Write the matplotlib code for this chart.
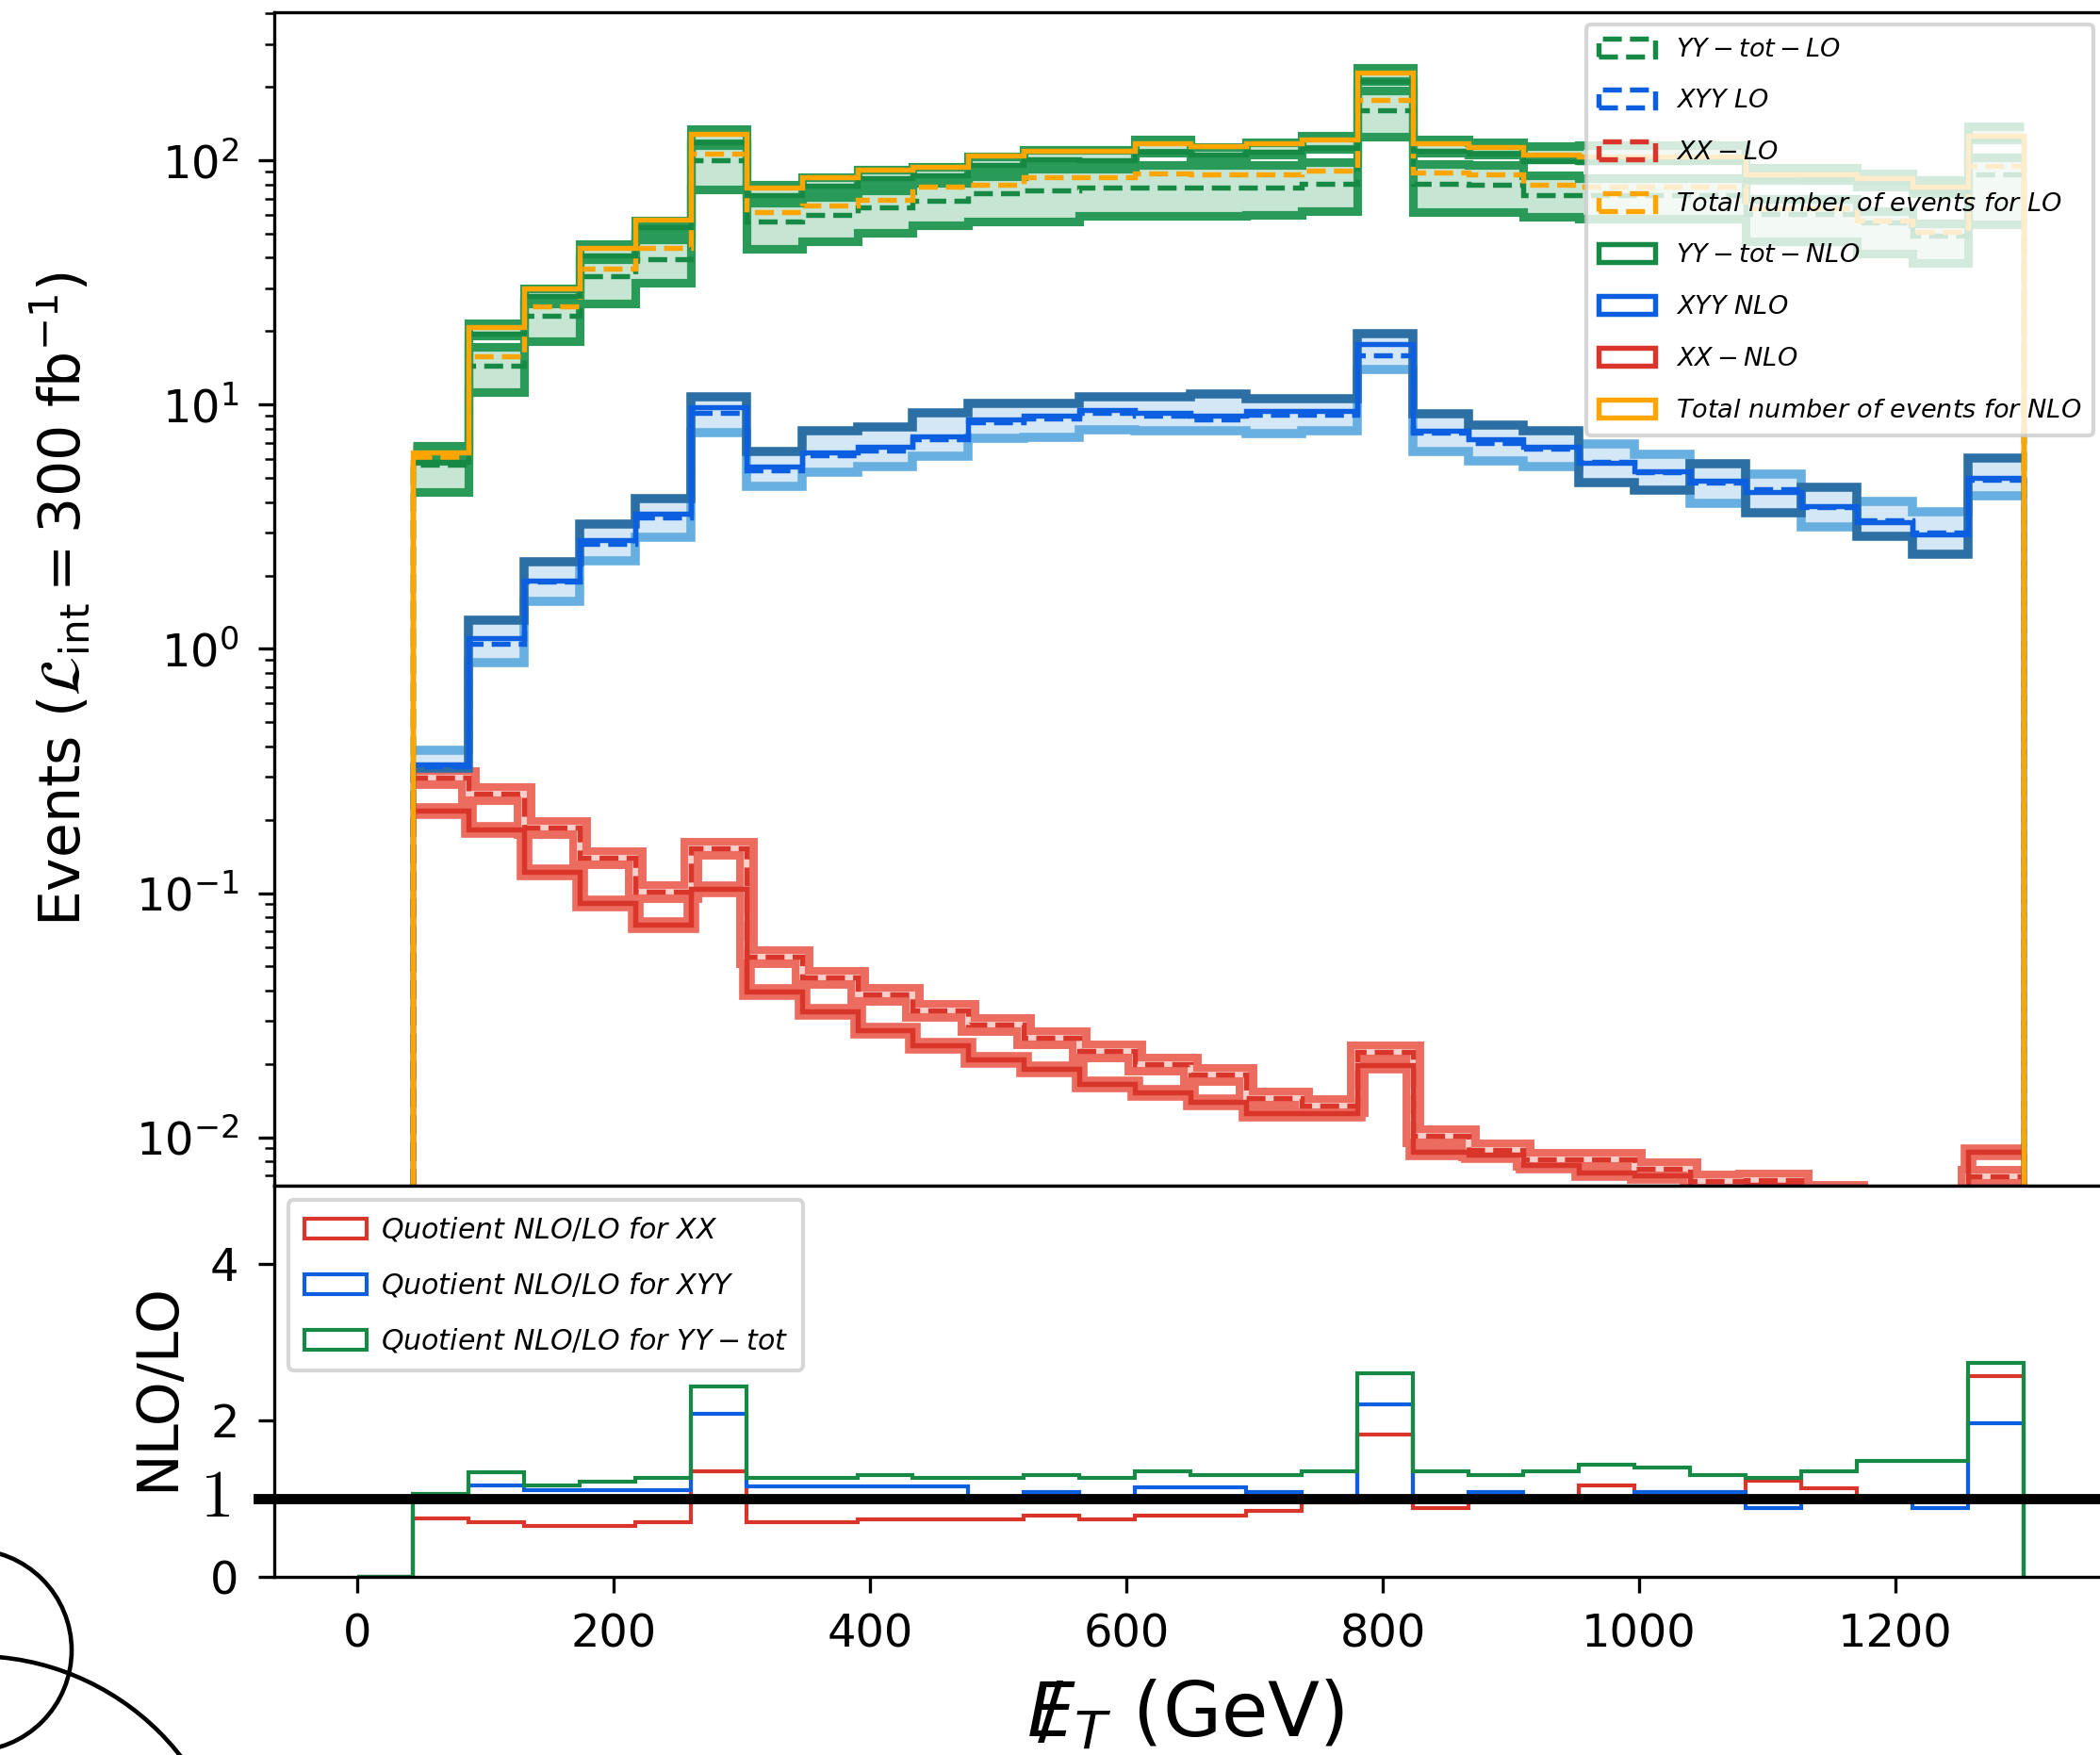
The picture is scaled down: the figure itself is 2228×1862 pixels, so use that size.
import numpy as np
import matplotlib.pyplot as plt
from matplotlib.patches import Ellipse

# 30 bins in missing E_T from 0 to 1300 GeV, the first one is empty
edges = np.linspace(0, 1300, 31)

# ---- main panel, bins 2..30 ----
total_nlo = [6.4, 20.9, 30.0, 43.8, 57.3, 129, 77.6, 85.3, 91.9, 94.6, 105, 110, 110, 118, 115,
             118, 122, 230, 118, 114, 106, 104, 104, 104, 88, 88, 85, 78, 127]
total_lo = [6.1, 15.8, 25.3, 36.1, 43.8, 106.6, 61.6, 65.4, 69.3, 78.1, 79.3, 85.3, 85.3, 88.4, 87.9,
            87.9, 91.0, 177, 89.3, 87.9, 80, 78, 78, 78, 64, 64, 57, 51, 95]

yy_nlo = [5.85, 19.6, 28.0, 40.9, 53.6, 119, 72.1, 78.9, 85.1, 87.1, 96.3, 101, 100.5, 108.7, 106,
          108.6, 112.6, 212, 110, 106.8, 99.3, 98.2, 98.6, 99.1, 83.6, 84.1, 81.7, 75, 122]
yy_lo = [5.7, 14.4, 23.2, 33.6, 39.5, 100.4, 56.4, 59.8, 64.4, 68.4, 73.6, 75.8, 77.5, 77.5, 77.5,
         77.5, 80.4, 161, 80.4, 79.3, 72, 72.4, 72.4, 72.4, 60.7, 60.7, 55.6, 49.3, 88]
yy_nlo_up = [6.8, 21.6, 29.9, 45.4, 56.7, 134, 79.7, 85.9, 91.6, 94.4, 104, 111, 111, 122, 114,
             119, 126, 239, 122, 119, 115, 116, 116, 116, 93.8, 93.8, 88.5, 83.2, 138]
yy_nlo_dn = [6.0, 19.2, 26.5, 40.2, 50.2, 118, 70.5, 76.1, 81.1, 83.6, 92.0, 98.0, 98.0, 108, 100.5,
             106, 112, 211, 108, 106, 102, 100, 100, 100, 83, 83, 78, 73.7, 122]
yy_lo_up = [5.9, 17.2, 26.0, 39.3, 47.7, 116, 67.0, 71.2, 75.4, 81.0, 86.3, 92.8, 92.8, 96.2, 95.6,
            95.6, 99.0, 193, 97.2, 95.6, 87, 85, 85, 85, 69.6, 69.6, 62, 55.5, 103]
yy_lo_dn = [4.4, 11.3, 18.2, 25.9, 31.5, 76.5, 43.6, 46.6, 50.4, 54.4, 56.4, 56.4, 59.6, 59.6, 59.6,
            59.8, 62.2, 125, 61.7, 61.7, 58.9, 57.8, 57.8, 57.8, 46.9, 46.9, 41.7, 38.2, 55]

xyy_nlo = [0.337, 1.11, 1.91, 2.78, 3.58, 9.78, 5.6, 6.4, 6.7, 7.45, 8.7, 9.05, 9.5, 9.25, 9.0,
           9.4, 9.4, 17.8, 7.85, 7.2, 6.7, 5.8, 5.35, 4.9, 4.4, 3.85, 3.3, 2.95, 5.0]
xyy_lo = [0.33, 1.05, 1.88, 2.69, 3.46, 9.29, 5.4, 6.2, 6.5, 7.2, 8.5, 8.8, 9.3, 9.0, 8.7,
          9.1, 9.1, 16.0, 7.7, 7.0, 6.6, 5.85, 5.3, 4.8, 4.5, 3.8, 3.35, 3.0, 4.95]
xyy_nlo_edge = [0.325, 1.31, 2.27, 3.24, 4.13, 10.8, 6.43, 7.84, 8.11, 9.23, 10.1, 10.1, 10.8, 10.8, 11.1,
                10.6, 10.6, 19.6, 9.16, 8.26, 7.81, 4.78, 4.48, 5.72, 3.60, 4.58, 2.88, 2.45, 6.06]
xyy_lo_edge = [0.385, 0.88, 1.56, 2.30, 2.87, 7.71, 4.62, 5.30, 5.57, 6.18, 7.31, 7.36, 7.93, 7.82, 7.82,
               7.59, 7.82, 13.9, 6.44, 5.89, 5.57, 6.93, 6.25, 3.94, 5.19, 3.15, 4.01, 3.64, 4.24]

xx_nlo = [0.218, 0.182, 0.122, 0.091, 0.074, 0.104, 0.0396, 0.0327, 0.0274, 0.0239, 0.0209, 0.0191,
          0.0165, 0.0153, 0.0140, 0.0125, 0.0126, 0.0197, 0.0087, 0.0085, 0.0077, 0.0072, 0.0070,
          0.0062, 0.0064, 0.0057, 0.0049, 0.0048, 0.0087]
xx_lo = [0.297, 0.255, 0.185, 0.139, 0.101, 0.152, 0.0548, 0.0453, 0.0385, 0.0330, 0.0290, 0.0256,
         0.0226, 0.0199, 0.0181, 0.0145, 0.0135, 0.0223, 0.0101, 0.0089, 0.0081, 0.0081, 0.0074,
         0.0066, 0.0067, 0.0060, 0.0052, 0.0050, 0.0069]

# ---- ratio panel, all 30 bins ----
ratio_xx = [0, 0.745, 0.69, 0.645, 0.645, 0.69, 1.35, 0.69, 0.69, 0.735, 0.735, 0.735, 0.785, 0.735, 0.785,
            0.785, 0.84, 0.945, 1.82, 0.87, 1.0, 0.955, 1.17, 0.955, 1.0, 1.22, 1.125, 0.955, 0.955, 2.56]
ratio_xyy = [0, 1.02, 1.17, 1.10, 1.10, 1.10, 2.08, 1.15, 1.15, 1.15, 1.15, 1.0, 1.085, 1.0, 1.135,
             1.135, 1.085, 1.0, 2.2, 1.0, 1.085, 1.0, 1.0, 1.085, 1.085, 0.875, 1.0, 1.0, 0.875, 1.955]
ratio_yy = [0, 1.06, 1.33, 1.17, 1.21, 1.26, 2.43, 1.26, 1.26, 1.30, 1.26, 1.26, 1.30, 1.26, 1.35,
            1.295, 1.295, 1.35, 2.60, 1.35, 1.30, 1.35, 1.43, 1.395, 1.30, 1.265, 1.35, 1.475, 1.475, 2.73]

GREEN, BLUE, RED, ORANGE = '#168a45', '#0b5fe0', '#d9352a', '#ffa500'


def ext(a):
    a = np.asarray(a, dtype=float)
    return np.append(a, a[-1])


W, H, DPI = 2228, 1862, 300
fig = plt.figure(figsize=(W / DPI, H / DPI), dpi=DPI)
ax = fig.add_axes([291 / W, 1 - 1258 / H, 1944 / W, (1258 - 12.5) / H])
axr = fig.add_axes([291 / W, 1 - 1672.6 / H, 1944 / W, (1672.6 - 1258) / H])

x = edges[1:]

# uncertainty bands
ax.fill_between(x, ext(yy_lo_dn), ext(yy_lo_up), step='post', color='#c6e5d2', lw=0, zorder=1)
ax.fill_between(x, ext(yy_nlo_dn), ext(yy_nlo_up), step='post', color='#c6e5d2', lw=0, zorder=1)
for arr in (yy_lo_dn, yy_lo_up, yy_nlo_dn, yy_nlo_up):
    ax.stairs(arr, x, baseline=None, color='#2a9a58', lw=2.2, zorder=1.5)

ax.fill_between(x, ext(xyy_lo_edge), ext(xyy_nlo_edge), step='post', color='#d4e7f7', lw=0, zorder=1)
ax.stairs(xyy_lo_edge, x, baseline=None, color='#66afe0', lw=2.3, zorder=1.5)
ax.stairs(xyy_nlo_edge, x, baseline=None, color='#2c6fa5', lw=2.3, zorder=1.6)

ax.stairs(xx_lo, x, baseline=None, color='#ec6c5f', lw=5.5, zorder=1.5)
ax.stairs(xx_lo, x, baseline=None, color='#f8d0cb', lw=1.4, zorder=1.55)
ax.stairs(xx_nlo, x, baseline=None, color='#ec6c5f', lw=4.0, zorder=1.5)

# central values
curves = [
    (yy_lo, GREEN, '--', r'$YY-tot-LO$'),
    (xyy_lo, BLUE, '--', r'$XYY\ LO$'),
    (xx_lo, RED, '--', r'$XX-LO$'),
    (total_lo, ORANGE, '--', r'$Total\ number\ of\ events\ for\ LO$'),
    (yy_nlo, GREEN, '-', r'$YY-tot-NLO$'),
    (xyy_nlo, BLUE, '-', r'$XYY\ NLO$'),
    (xx_nlo, RED, '-', r'$XX-NLO$'),
    (total_nlo, ORANGE, '-', r'$Total\ number\ of\ events\ for\ NLO$'),
]
for vals, c, ls, lab in curves:
    ax.hist(x[:-1], bins=x, weights=vals, histtype='step', color=c, ls=ls, lw=1.3,
            label=lab, zorder=2)

ax.set_yscale('log')
ax.set_ylim(6.33e-3, 4.07e2)
ax.set_xlim(-65, 1365)
ax.tick_params(axis='x', bottom=False, labelbottom=False)
ax.tick_params(axis='y', which='major', length=4, width=0.8, labelsize=11.5, pad=5)
ax.tick_params(axis='y', which='minor', length=2.3, width=0.6)
ax.set_ylabel(r'Events ($\mathcal{L}_{\rm int} = 300$ fb$^{-1}$)', fontsize=14.4)
ax.yaxis.set_label_coords(-0.0988, 0.5)
ax.legend(loc='upper right', fontsize=6.5, handlelength=2.2, labelspacing=1.06,
          borderpad=0.5, borderaxespad=0.5)

# ratio panel
ratios = [
    (ratio_xx, RED, r'$Quotient\ NLO/LO\ for\ XX$'),
    (ratio_xyy, BLUE, r'$Quotient\ NLO/LO\ for\ XYY$'),
    (ratio_yy, GREEN, r'$Quotient\ NLO/LO\ for\ YY-tot$'),
]
for vals, c, lab in ratios:
    axr.hist(edges[:-1], bins=edges, weights=vals, histtype='step', color=c, lw=1.0, label=lab)
axr.axhline(1, xmin=-0.009, xmax=1.0, color='k', lw=2.6, clip_on=False, zorder=3)
axr.set_xlim(-65, 1365)
axr.set_ylim(0, 5)
axr.set_yticks([0, 1, 2, 4])
axr.set_yticklabels(['0', '', '2', '4'])
axr.text(-0.0242, 1, '$1$', transform=axr.get_yaxis_transform(), ha='right', va='center',
         fontsize=17, math_fontfamily='cm')
axr.set_xticks([0, 200, 400, 600, 800, 1000, 1200])
axr.tick_params(axis='both', which='major', length=4, width=0.8, labelsize=11.5, pad=5)
axr.set_ylabel('NLO/LO', fontsize=14.3)
axr.yaxis.set_label_coords(-0.0483, 0.484)
axr.set_xlabel(r'$/\!\!\!E_T$ (GeV)', fontsize=19.3)
axr.xaxis.set_label_coords(0.4975, -0.262)
axr.legend(loc='upper left', fontsize=7.2, handlelength=2.2, handletextpad=0.5,
           labelspacing=0.97, borderpad=0.55)

# the two circle outlines in the lower left corner
for cx, cy, r in [(-31, 111, 107), (-26, -171, 276)]:
    fig.add_artist(Ellipse((cx / W, cy / H), 2 * r / W, 2 * r / H, transform=fig.transFigure,
                           fill=False, color='k', lw=1.1, clip_on=False))

fig.savefig('out.png', dpi=DPI)
